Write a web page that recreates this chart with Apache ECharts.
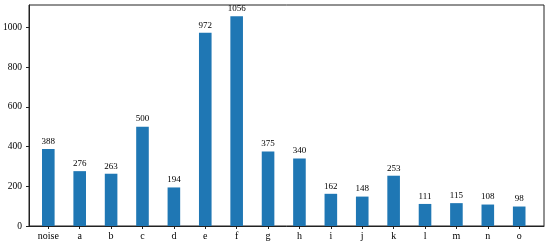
<!DOCTYPE html>
<html>
<head>
<meta charset="utf-8">
<script src="https://cdn.jsdelivr.net/npm/echarts@6/dist/echarts.min.js"></script>
<style>
  html, body { margin: 0; padding: 0; background: #fff; }
  #BarChart { width: 550px; height: 247px; }
</style>
</head>
<body>
<div id="BarChart"></div>
<script>
// categories and counts
var categories = ['noise', 'a', 'b', 'c', 'd', 'e', 'f', 'g', 'h', 'i', 'j', 'k', 'l', 'm', 'n', 'o'];
var counts = [388, 276, 263, 500, 194, 972, 1056, 375, 340, 162, 148, 253, 111, 115, 108, 98];
var yTicks = [0, 200, 400, 600, 800, 1000];

var positions = categories.map(function (c, i) { return i; });
var barData = counts.map(function (v, i) { return [positions[i], v]; });

var myChart = echarts.init(document.getElementById('BarChart'));
var font = 'Liberation Serif';

var option = {
  animation: false,
  grid: {
    left: 29,
    right: 6,
    top: 5,
    bottom: 21,
    show: true,
    borderColor: '#222',
    borderWidth: 1,
    backgroundColor: 'transparent'
  },
  xAxis: {
    type: 'value',
    min: -0.615,
    max: 15.79,
    splitLine: { show: false },
    axisLine: { show: true, onZero: false, lineStyle: { color: '#222', width: 1 } },
    axisTick: {
      show: true,
      length: 3,
      customValues: positions,
      lineStyle: { color: '#222' }
    },
    axisLabel: {
      customValues: positions,
      margin: 5,
      color: '#000',
      fontFamily: font,
      fontSize: 10,
      formatter: function (v) { return categories[Math.round(v)]; }
    }
  },
  yAxis: {
    type: 'value',
    min: 0,
    max: 1112,
    splitLine: { show: false },
    axisLine: { show: true, onZero: false, lineStyle: { color: '#222', width: 1 } },
    axisTick: {
      show: true,
      length: 3,
      customValues: yTicks,
      lineStyle: { color: '#222' }
    },
    axisLabel: {
      customValues: yTicks,
      margin: 7,
      color: '#000',
      fontFamily: font,
      fontSize: 9.5,
      formatter: function (v) { return String(v); }
    }
  },
  series: [
    {
      type: 'bar',
      data: barData,
      barWidth: 12.6,
      itemStyle: { color: '#1f77b4' },
      label: {
        show: true,
        position: 'top',
        distance: 3,
        color: '#000',
        fontFamily: font,
        fontSize: 9
      }
    }
  ]
};

option && myChart.setOption(option);
</script>
</body>
</html>
